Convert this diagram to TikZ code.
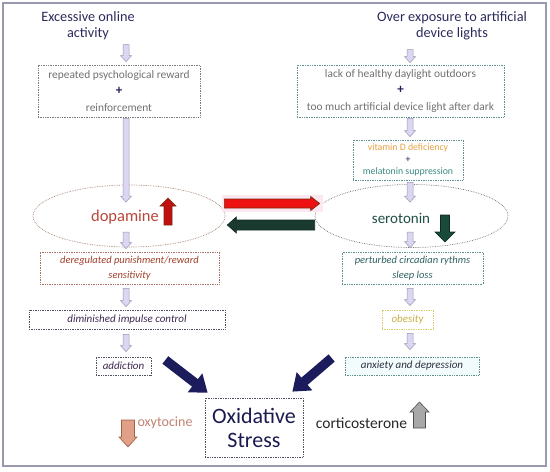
\documentclass[tikz,border=0pt]{standalone}
\usepackage{fontspec}
\setmainfont{Carlito}
\usetikzlibrary{arrows.meta,calc,shapes.geometric}
\definecolor{navy}{HTML}{2B2A5C}
\definecolor{plusnavy}{HTML}{1F1F5A}
\definecolor{txtgrey}{HTML}{707070}
\definecolor{bxgrey}{HTML}{7A7A80}
\definecolor{doptxt}{HTML}{B8473A}
\definecolor{dopborder}{HTML}{A08070}
\definecolor{dertxt}{HTML}{A0402A}
\definecolor{derborder}{HTML}{A87060}
\definecolor{purptxt}{HTML}{3C2850}
\definecolor{purpborder}{HTML}{505060}
\definecolor{sertxt}{HTML}{1F4F45}
\definecolor{serborder}{HTML}{707878}
\definecolor{perttxt}{HTML}{2F6060}
\definecolor{tealborder}{HTML}{5F9090}
\definecolor{obtxt}{HTML}{C8B048}
\definecolor{obborder}{HTML}{DDCB70}
\definecolor{anxtxt}{HTML}{303040}
\definecolor{anxfill}{HTML}{F2FCFC}
\definecolor{vitD}{HTML}{E8A040}
\definecolor{melat}{HTML}{3A8A80}
\definecolor{bignavy}{HTML}{1C1C5C}
\definecolor{oxtxt}{HTML}{1A1A50}
\definecolor{redfill}{HTML}{EE1111}
\definecolor{redline}{HTML}{7A2A10}
\definecolor{greenfill}{HTML}{1A3A30}
\definecolor{greenline}{HTML}{0F2A20}
\definecolor{dopup}{HTML}{C01010}
\definecolor{serdown}{HTML}{1A4A3A}
\definecolor{oxyfill}{HTML}{E0A088}
\definecolor{oxyline}{HTML}{A06040}
\definecolor{oxytxt}{HTML}{C08070}
\definecolor{cortfill}{HTML}{A8A8A8}
\definecolor{cortline}{HTML}{505050}
\definecolor{hollowfill}{HTML}{DCD6F2}
\definecolor{hollowline}{HTML}{9A98B0}
\definecolor{framecol}{HTML}{9A9AAE}
\definecolor{pinkglow}{HTML}{FDE8F2}
\newcommand{\hollowarr}[2]{\draw[hollowstyle] let \p1=#1, \p2=#2 in
  (\x1-3pt,\y1) -- (\x1+3pt,\y1) -- (\x1+3pt,\y2+6pt) -- (\x1+5.5pt,\y2+6pt)
  -- (\x1,\y2) -- (\x1-5.5pt,\y2+6pt) -- (\x1-3pt,\y2+6pt) -- cycle;}
\newcommand{\vblock}[7]{\draw[#1] ({#2-#6},#3) -- ({#2-#6},#4) -- ({#2-#7},#4)
  -- (#2,#5) -- ({#2+#7},#4) -- ({#2+#6},#4) -- ({#2+#6},#3) -- cycle;}
% right-pointing block arrow
\newcommand{\hblockR}[6]{\draw[#1] let \p1=#2, \p2=#3 in
  (\x1,\y1+#4) -- (\x2-#6,\y1+#4) -- (\x2-#6,\y1+#5) -- (\x2,\y1)
  -- (\x2-#6,\y1-#5) -- (\x2-#6,\y1-#4) -- (\x1,\y1-#4) -- cycle;}
% left-pointing block arrow
\newcommand{\hblockL}[6]{\draw[#1] let \p1=#2, \p2=#3 in
  (\x1,\y1+#4) -- (\x2+#6,\y1+#4) -- (\x2+#6,\y1+#5) -- (\x2,\y1)
  -- (\x2+#6,\y1-#5) -- (\x2+#6,\y1-#4) -- (\x1,\y1-#4) -- cycle;}
\begin{document}
\begin{tikzpicture}[x=1pt,y=-1pt,
  title/.style={text=navy,align=center,font=\fontsize{14.3}{16}\selectfont,inner sep=0pt},
  box/.style={draw,densely dotted,line width=0.7pt,inner sep=0pt,align=center},
  hollowstyle/.style={fill=hollowfill,draw=hollowline,line width=0.5pt},
  navyarrow/.style={draw=bignavy,line width=9.5pt,-{Triangle[length=16pt,width=23pt]}},
]
\useasboundingbox (0,0) rectangle (550,472);
\draw[framecol,line width=1.5pt] (3,3) rectangle (546,466);

% helper column coordinates
\coordinate (lx) at (126,0);
\coordinate (rx) at (410,0);

% titles
\node[title] (tl) at (88,26) {Excessive online\\activity};
\node[title] (tr) at (452,26) {Over exposure to artificial\\device lights};

% left column
\node[box,draw=bxgrey,minimum width=162pt,minimum height=52pt,
  font=\fontsize{11.4}{16.5}\selectfont] (b1) at (119,91)
  {\textcolor{txtgrey}{repeated psychological reward}\\
   \textcolor{plusnavy}{\bfseries\fontsize{13}{16.5}\selectfont +}\\
   \textcolor{txtgrey}{reinforcement}};
\node[ellipse,draw=dopborder,densely dotted,line width=0.7pt,
  minimum width=192pt,minimum height=62pt,inner sep=0pt] (dop) at (129,216) {};
\node[text=doptxt,font=\fontsize{16.5}{20}\selectfont,inner sep=0pt] (dopt) at (125,217) {dopamine};
\node[box,draw=derborder,minimum width=179pt,minimum height=32pt,text=dertxt,
  font=\itshape\fontsize{10.5}{15}\selectfont] (b2) at (129.5,268)
  {deregulated punishment/reward\\sensitivity};
\node[box,draw=purpborder,minimum width=196pt,minimum height=19pt,text=purptxt,
  font=\itshape\fontsize{11}{13}\selectfont] (b3) at (127,319.5) {diminished impulse control};
\node[box,draw=purpborder,minimum width=55pt,minimum height=18pt,text=purptxt,
  font=\itshape\fontsize{11}{13}\selectfont] (b4) at (123.5,366) {addiction};

% right column
\node[box,draw=tealborder,minimum width=207pt,minimum height=52pt,
  font=\fontsize{11.4}{16.5}\selectfont] (r1) at (400.5,91)
  {\textcolor{txtgrey}{lack of healthy daylight outdoors}\\
   \textcolor{plusnavy}{\bfseries\fontsize{13}{16.5}\selectfont +}\\
   \textcolor{txtgrey}{too much artificial device light after dark}};
\node[box,draw=tealborder,minimum width=110pt,minimum height=40pt,
  font=\fontsize{9.8}{12}\selectfont] (r2) at (408,160)
  {\textcolor{vitD}{vitamin D deficiency}\\
   \textcolor{plusnavy}{+}\\
   \textcolor{melat}{melatonin suppression}};
\node[ellipse,draw=serborder,densely dotted,line width=0.7pt,
  minimum width=193pt,minimum height=63pt,inner sep=0pt] (ser) at (411.5,216) {};
\node[text=sertxt,font=\fontsize{15}{20}\selectfont,inner sep=0pt] (sert) at (401,218) {serotonin};
\node[box,draw=tealborder,minimum width=141pt,minimum height=32pt,text=perttxt,
  font=\itshape\fontsize{10.5}{15}\selectfont] (r3) at (412.5,268)
  {perturbed circadian rythms\\sleep loss};
\node[box,draw=obborder,minimum width=51pt,minimum height=19pt,text=obtxt,
  font=\itshape\fontsize{11}{13}\selectfont] (r4) at (407.5,319.5) {obesity};
\node[box,draw=tealborder,fill=anxfill,minimum width=134pt,minimum height=18pt,text=anxtxt,
  font=\itshape\fontsize{11}{13}\selectfont] (r5) at (412,366) {anxiety and depression};

% bottom
\node[box,draw=purpborder,minimum width=98pt,minimum height=59pt,text=oxtxt,
  font=\fontsize{22}{24}\selectfont] (ox) at (254,427.5) {Oxidative\\Stress};
\node[text=oxytxt,font=\fontsize{14}{16}\selectfont,inner sep=0pt] (oxy) at (165,423) {oxytocine};
\node[text=black!85,font=\fontsize{15.5}{18}\selectfont,inner sep=0pt] (cort) at (361.5,423) {corticosterone};

% hollow arrows, left
\hollowarr{($(b1.north -| lx)+(0,-20)$)}{($(b1.north -| lx)+(0,-3)$)}
\hollowarr{($(b1.south -| lx)+(0,1)$)}{($(dop.center -| lx)+(0,-14)$)}
\hollowarr{($(dop.center -| lx)+(0,16)$)}{($(b2.north -| lx)+(0,-3)$)}
\hollowarr{($(b2.south -| lx)+(0,4)$)}{($(b3.north -| lx)+(0,-3)$)}
\hollowarr{($(b3.south -| lx)+(0,5)$)}{($(b4.north -| lx)+(0,-5)$)}
% hollow arrows, right
\hollowarr{($(r1.north -| rx)+(0,-15)$)}{($(r1.north -| rx)+(0,-2)$)}
\hollowarr{($(r1.south -| rx)+(0,1)$)}{($(r2.north -| rx)+(0,-3)$)}
\hollowarr{($(r2.south -| rx)+(0,2)$)}{($(ser.center -| rx)+(0,-14)$)}
\hollowarr{($(ser.center -| rx)+(0,16)$)}{($(r3.north -| rx)+(0,-4)$)}
\hollowarr{($(r3.south -| rx)+(0,4)$)}{($(r4.north -| rx)+(0,-4)$)}
\hollowarr{($(r4.south -| rx)+(0,4)$)}{($(r5.north -| rx)+(0,-7)$)}

% red / green exchange arrows
\fill[pinkglow] ($(dop.east)+(-3,-21)$) rectangle ($(ser.west)+(8,-4)$);
\hblockR{fill=redfill,draw=redline,line width=0.7pt}{($(dop.east)+(-1,-12.5)$)}{($(ser.west)+(5,-12.5)$)}{4.5pt}{7pt}{9pt}
\hblockL{fill=greenfill,draw=greenline,line width=0.7pt}{($(ser.west)+(0,9)$)}{($(dop.east)+(2,9)$)}{5pt}{8pt}{9pt}

% level arrows
\vblock{fill=dopup,draw=redline,line width=0.6pt}{168}{225}{206}{198}{4}{8}
\vblock{fill=serdown,draw=greenline,line width=0.6pt}{445}{215}{232}{242}{4.5}{10}
\vblock{fill=oxyfill,draw=oxyline,line width=0.6pt}{128}{420}{437}{447}{6.5}{9}
\vblock{fill=cortfill,draw=cortline,line width=0.6pt}{419.5}{428}{412}{402}{6}{9.5}

% big navy arrows
\coordinate (nl) at ($(b4.east)+(14,-6)$);
\coordinate (nr) at ($(r5.west)+(-13,-8)$);
\draw[navyarrow] (nl) -- ($(ox.north west)+(3,-5)$);
\draw[navyarrow] (nr) -- ($(ox.north east)+(-11,-6)$);
\end{tikzpicture}
\end{document}
